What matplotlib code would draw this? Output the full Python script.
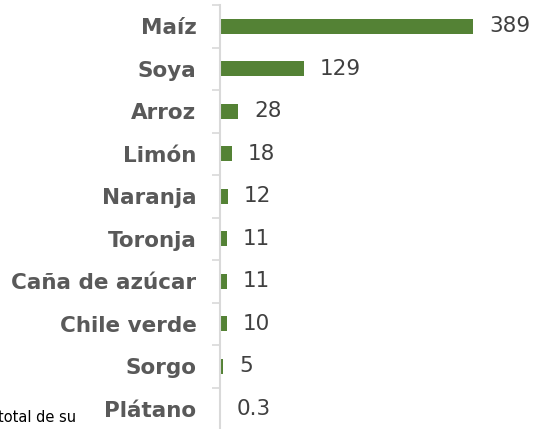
import numpy as np
import matplotlib.pyplot as plt

# datos
cultivos = ['Maíz', 'Soya', 'Arroz', 'Limón', 'Naranja', 'Toronja',
            'Caña de azúcar', 'Chile verde', 'Sorgo', 'Plátano']
valores = [389, 129, 28, 18, 12, 11, 11, 10, 5, 0.3]
etiquetas = ['389', '129', '28', '18', '12', '11', '11', '10', '5', '0.3']

W, H = 545, 429
fig = plt.figure(figsize=(W / 100, H / 100), dpi=100)
ax = fig.add_axes([220 / W, -1 / H, (W - 220) / W, 425 / H])

y = np.arange(len(cultivos))
ax.barh(y, valores, height=0.36, color='#548235')

for yi, v, t in zip(y, valores, etiquetas):
    ax.annotate(t, (v, yi), xytext=(11.5, 0), textcoords='offset points',
                va='center', ha='left', fontsize=15.5, color='#404040')

ax.set_ylim(len(cultivos) - 0.5, -0.5)
ax.set_xlim(0, (W - 220) / 0.65)

ax.set_yticks(y)
ax.set_yticklabels(cultivos, fontsize=15.5, fontweight='bold', color='#595959')
ax.tick_params(axis='y', which='major', length=0, pad=17)
ax.set_yticks(np.arange(len(cultivos) + 1) - 0.5, minor=True)
ax.tick_params(axis='y', which='minor', length=6, width=1.2, color='#d9d9d9')
ax.set_xticks([])

for s in ['top', 'right', 'bottom']:
    ax.spines[s].set_visible(False)
ax.spines['left'].set_color('#d9d9d9')
ax.spines['left'].set_linewidth(1.5)

# texto cortado de la nota en la esquina
fig.text(-0.004, 0.01, 'total de su', fontsize=10.5, color='black', ha='left', va='bottom')

fig.savefig('out.png', dpi=100)
